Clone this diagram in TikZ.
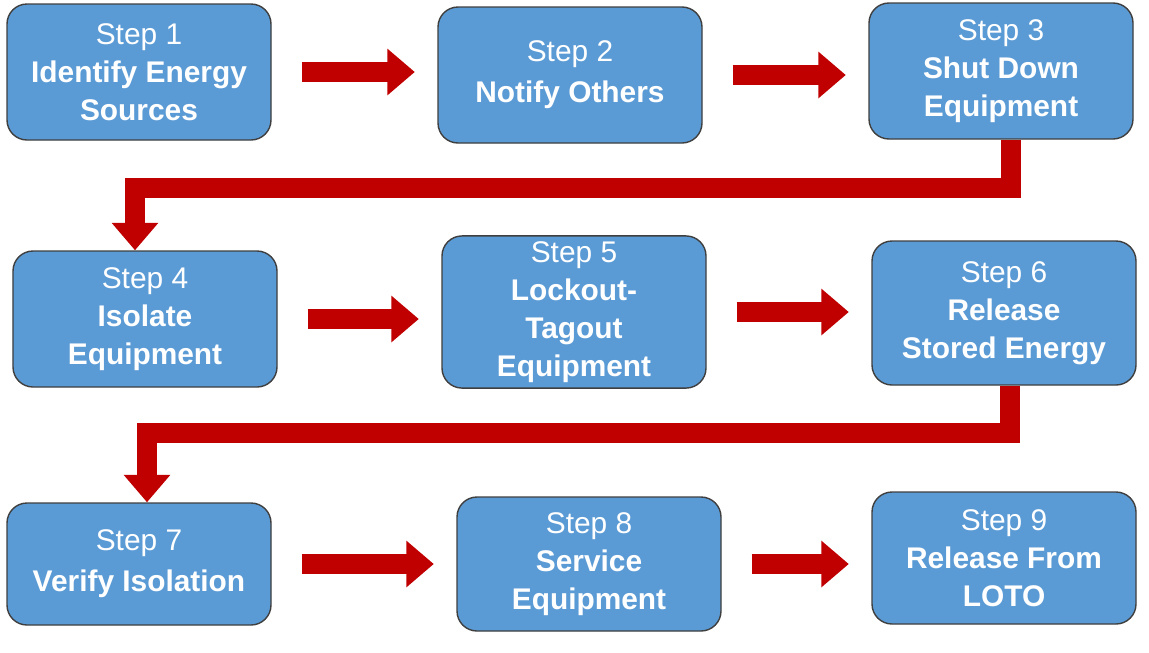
\documentclass[tikz,border=0pt]{standalone}
\usepackage{fontspec}
\setmainfont{Liberation Sans}
\usetikzlibrary{positioning}
\usetikzlibrary{arrows.meta}
\definecolor{box-blue}{HTML}{5B9BD5}
\definecolor{box-edge}{HTML}{3F3F3F}
\definecolor{arrow-red}{HTML}{C00000}
\tikzset{
  step box/.style={draw=box-edge, line width=0.8pt, fill=box-blue, text=white,
    minimum width=5.28cm, minimum height=2.72cm, rounded corners=0.4cm,
    align=center, font=\fontsize{17}{21.5}\selectfont\bfseries},
  flow/.style={arrow-red, line width=0.4cm,
    -{Triangle[length=0.55cm,width=0.9cm]}, shorten <=0.6cm, shorten >=0.45cm},
  elbow/.style={arrow-red, line width=0.4cm,
    -{Triangle[length=0.55cm,width=0.9cm]}}
}
\newcommand{\stepno}[1]{{\mdseries Step #1}}
\begin{document}
\begin{tikzpicture}

    \useasboundingbox (0,0) rectangle (22.98,-13.04);

    \node[step box] (Identify) at (2.78,-1.44) {\stepno{1}\\Identify Energy\\Sources};
    \node[step box] (Notify) at (11.40,-1.50) {\stepno{2}\\[2pt]Notify Others};
    \node[step box] (Shut Down) at (20.02,-1.42) {\stepno{3}\\Shut Down\\Equipment};

    \node[step box] (Isolate) at (2.90,-6.38) {\stepno{4}\\Isolate\\Equipment};
    \node[step box, minimum height=2.88cm] (Lockout) at (11.48,-6.24) {\stepno{5}\\Lockout-\\Tagout\\Equipment};
    \node[step box, minimum height=2.88cm] (Release) at (20.08,-6.26) {\stepno{6}\\Release\\Stored Energy};

    \node[step box, minimum height=2.44cm] (Verify) at (2.78,-11.28) {\stepno{7}\\[2pt]Verify Isolation};
    \node[step box, minimum height=2.68cm] (Service) at (11.78,-11.28) {\stepno{8}\\Service\\Equipment};
    \node[step box, minimum height=2.64cm] (LOTO) at (20.08,-11.16) {\stepno{9}\\Release From\\LOTO};

	\draw[flow] (Identify.east) -- (Identify.east -| Notify.west);
	\draw[flow] (Notify.east) -- (Notify.east -| Shut Down.west);
	\draw[flow] (Isolate.east) -- (Isolate.east -| Lockout.west);
	\draw[flow] (Lockout.east) -- (Lockout.east -| Release.west);
	\draw[flow] (Verify.east) -- (Verify.east -| Service.west);
	\draw[flow] (Service.east) -- (Service.east -| LOTO.west);

	\draw[elbow] ([xshift=0.2cm]Shut Down.south) -- ++(0,-0.96) -| ([xshift=-0.2cm]Isolate.north);
	\draw[elbow] ([xshift=0.12cm]Release.south) -- ++(0,-0.94) -| ([xshift=0.16cm]Verify.north);

\end{tikzpicture}
\end{document}
